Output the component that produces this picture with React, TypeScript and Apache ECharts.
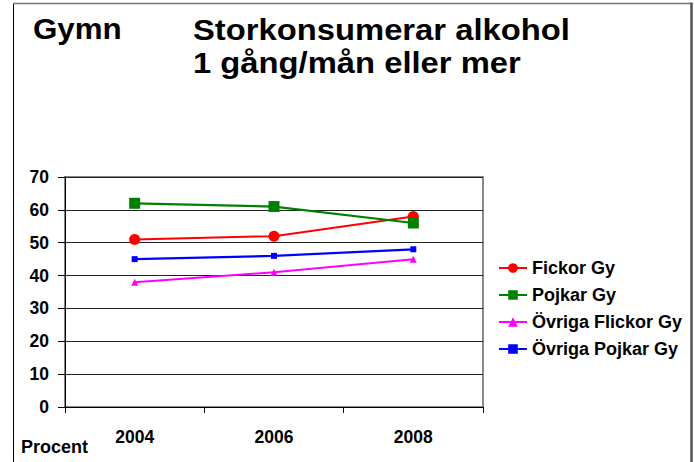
import React, { useEffect, useRef } from "react";
import * as echarts from "echarts";

const years = ["2004", "2006", "2008"];
const fickorGy = [51, 52, 58];
const pojkarGy = [62, 61, 56];
const ovrigaFlickorGy = [38, 41, 45];
const ovrigaPojkarGy = [45, 46, 48];
const seriesNames = ["Fickor Gy", "Pojkar Gy", "Övriga Flickor Gy", "Övriga Pojkar Gy"];

const FONT = "'Liberation Sans', Arial, sans-serif";

export default function App() {
  const ref = useRef<HTMLDivElement>(null);
  useEffect(() => {
    if (!ref.current) return;
    const chart = echarts.init(ref.current, null, { renderer: "svg" });
    const mk = (name: string, data: number[], color: string, symbol: string, size: number, width: number) => ({
      name,
      type: "line",
      data,
      symbol,
      symbolSize: size,
      showSymbol: true,
      lineStyle: { color, width },
      itemStyle: { color },
      z: 3,
    });
    chart.setOption({
      animation: false,
      backgroundColor: "#fff",
      textStyle: { fontFamily: FONT },
      grid: {
        left: 65,
        right: 211,
        top: 177,
        bottom: 55,
        show: true,
        borderColor: "#888",
        borderWidth: 2,
        backgroundColor: "transparent",
      },
      legend: {
        orient: "vertical",
        left: 493,
        top: 253,
        itemWidth: 28,
        itemHeight: 12,
        itemGap: 7,
        data: seriesNames,
        textStyle: { fontFamily: FONT, fontWeight: "bold", fontSize: 18, color: "#000", lineHeight: 20 },
      },
      xAxis: {
        type: "category",
        data: years,
        boundaryGap: true,
        axisLine: { show: true, lineStyle: { color: "#000", width: 1 } },
        axisTick: { show: true, length: 6, interval: 0, lineStyle: { color: "#000" } },
        axisLabel: { margin: 21, fontFamily: FONT, fontWeight: "bold", fontSize: 17.5, color: "#000" },
        splitLine: { show: false },
      },
      yAxis: {
        type: "value",
        min: 0,
        max: 70,
        interval: 10,
        axisLine: { show: true, lineStyle: { color: "#000", width: 1 } },
        axisTick: { show: true, length: 7, lineStyle: { color: "#000" } },
        axisLabel: { margin: 16, fontFamily: FONT, fontWeight: "bold", fontSize: 17.5, color: "#000" },
        splitLine: { show: true, lineStyle: { color: "#222", width: 1 } },
      },
      graphic: [
        { type: "line", shape: { x1: 13.5, y1: 3, x2: 13.5, y2: 462 }, style: { stroke: "#000", lineWidth: 1 } },
        { type: "line", shape: { x1: 13, y1: 3.5, x2: 692, y2: 3.5 }, style: { stroke: "#777", lineWidth: 1.5 } },
        { type: "line", shape: { x1: 691.5, y1: 2.5, x2: 691.5, y2: 462 }, style: { stroke: "#555", lineWidth: 2.5 } },
        {
          type: "text",
          x: 33,
          y: 29,
          scaleX: 1.08,
          style: { text: "Gymn", font: `bold 29px ${FONT}`, fill: "#000", verticalAlign: "middle" },
        },
        {
          type: "text",
          x: 193,
          y: 14,
          scaleX: 1.13,
          style: {
            text: "Storkonsumerar alkohol\n1 gång/mån eller mer",
            font: `bold 29px ${FONT}`,
            lineHeight: 33,
            fill: "#000",
            verticalAlign: "top",
          },
        },
        {
          type: "text",
          x: 21,
          y: 447,
          style: { text: "Procent", font: `bold 18px ${FONT}`, fill: "#000", verticalAlign: "middle" },
        },
      ],
      series: [
        mk(seriesNames[0], fickorGy, "#FF0000", "circle", 11, 2),
        mk(seriesNames[1], pojkarGy, "#008000", "rect", 11, 2.2),
        mk(seriesNames[2], ovrigaFlickorGy, "#FF00FF", "triangle", 7, 2),
        mk(seriesNames[3], ovrigaPojkarGy, "#0000FF", "rect", 6, 2.2),
      ],
    });
    return () => chart.dispose();
  }, []);
  return <div ref={ref} style={{ position: "fixed", left: 0, top: 0, width: 694, height: 462 }} />;
}
